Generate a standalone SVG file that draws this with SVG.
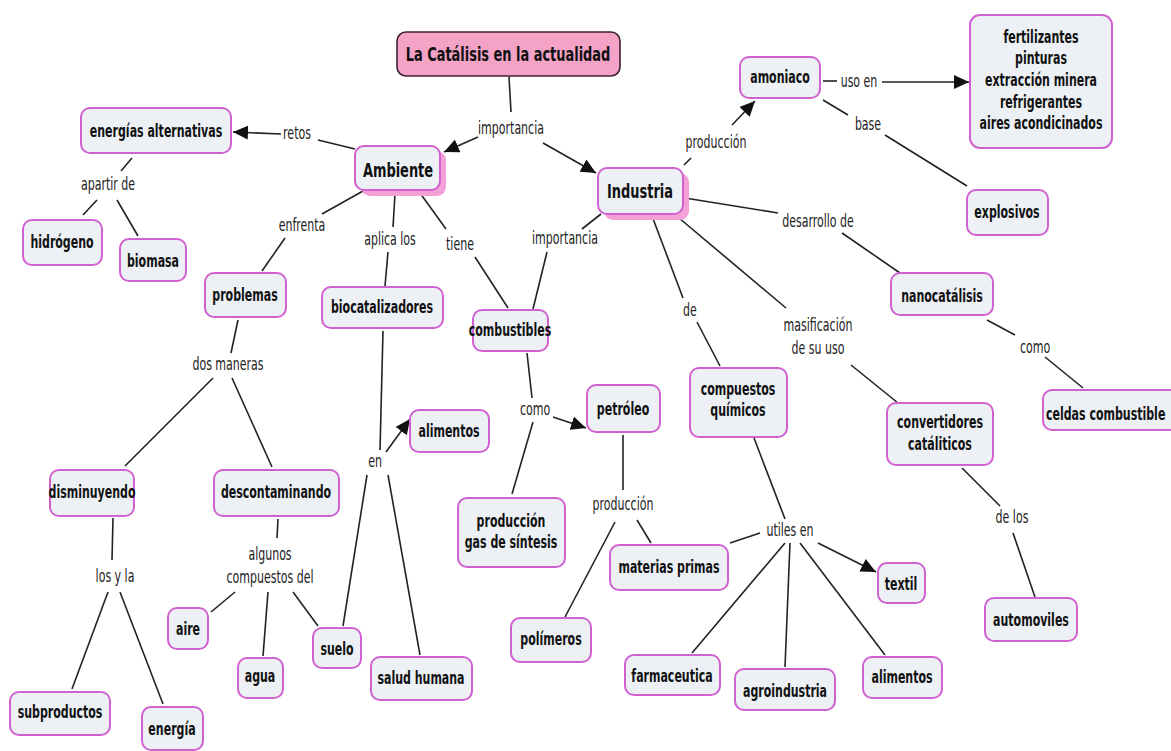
<svg xmlns="http://www.w3.org/2000/svg" width="1171" height="751" viewBox="0 0 1171 751">
  <defs>
    <style>
      .box{fill:#edf1f5;stroke:#d160d1;stroke-width:2}
      .sh{fill:#f4a0d6}
      .title{fill:#f4a3c6;stroke:#3f1f2e;stroke-width:1.6}
      .t{font-family:"DejaVu Sans Condensed","DejaVu Sans",sans-serif;font-weight:bold;font-size:17px;fill:#111;text-anchor:middle}
      .big{font-size:20px}
      .st{text-anchor:start}
      .lbl{font-family:"DejaVu Sans Condensed","DejaVu Sans",sans-serif;font-size:17px;fill:#222;text-anchor:middle}
      .ln{stroke:#222;stroke-width:1.6;fill:none}
      .arr{marker-end:url(#ah)}
    </style>
    <marker id="ah" markerUnits="userSpaceOnUse" markerWidth="16" markerHeight="14" refX="15" refY="7" orient="auto">
      <path d="M0,0 L15,7 L0,14 Z" fill="#111"/>
    </marker>
  </defs>
  <rect width="1171" height="751" fill="#ffffff"/>

  <!-- connectors -->
  <g id="connectors">
    <line class="ln" x1="509" y1="77" x2="511" y2="112"/>
    <line class="ln arr" x1="478" y1="137" x2="444" y2="152"/>
    <line class="ln arr" x1="543" y1="143" x2="596" y2="173"/>
    <line class="ln" x1="355" y1="149" x2="318" y2="140"/>
    <line class="ln arr" x1="281" y1="134" x2="233" y2="132"/>
    <line class="ln" x1="132" y1="158" x2="121" y2="171"/>
    <line class="ln" x1="97" y1="200" x2="83" y2="215"/>
    <line class="ln" x1="117" y1="200" x2="138" y2="236"/>
    <line class="ln" x1="363" y1="191" x2="322" y2="214"/>
    <line class="ln" x1="285" y1="238" x2="262" y2="271"/>
    <line class="ln" x1="395" y1="194" x2="393" y2="227"/>
    <line class="ln" x1="388" y1="252" x2="385" y2="286"/>
    <line class="ln" x1="420" y1="193" x2="446" y2="229"/>
    <line class="ln" x1="475" y1="257" x2="508" y2="308"/>
    <line class="ln" x1="601" y1="214" x2="582" y2="229"/>
    <line class="ln" x1="547" y1="252" x2="533" y2="309"/>
    <line class="ln" x1="684" y1="165" x2="691" y2="158"/>
    <line class="ln arr" x1="732" y1="125" x2="755" y2="101"/>
    <line class="ln" x1="823" y1="81" x2="837" y2="81"/>
    <line class="ln arr" x1="882" y1="82" x2="969" y2="82"/>
    <line class="ln" x1="823" y1="100" x2="848" y2="115"/>
    <line class="ln" x1="885" y1="135" x2="967" y2="186"/>
    <line class="ln" x1="685" y1="198" x2="778" y2="213"/>
    <line class="ln" x1="842" y1="233" x2="900" y2="273"/>
    <line class="ln" x1="987" y1="320" x2="1015" y2="335"/>
    <line class="ln" x1="1045" y1="357" x2="1083" y2="388"/>
    <line class="ln" x1="679" y1="218" x2="786" y2="308"/>
    <line class="ln" x1="851" y1="365" x2="898" y2="403"/>
    <line class="ln" x1="962" y1="468" x2="1000" y2="506"/>
    <line class="ln" x1="1013" y1="533" x2="1035" y2="597"/>
    <line class="ln" x1="652" y1="216" x2="683" y2="298"/>
    <line class="ln" x1="697" y1="322" x2="720" y2="366"/>
    <line class="ln" x1="754" y1="438" x2="785" y2="519"/>
    <line class="ln" x1="730" y1="543" x2="760" y2="533"/>
    <line class="ln arr" x1="818" y1="543" x2="876" y2="572"/>
    <line class="ln" x1="785" y1="543" x2="692" y2="653"/>
    <line class="ln" x1="790" y1="543" x2="785" y2="667"/>
    <line class="ln" x1="800" y1="543" x2="885" y2="655"/>
    <line class="ln" x1="527" y1="353" x2="532" y2="398"/>
    <line class="ln arr" x1="553" y1="417" x2="586" y2="428"/>
    <line class="ln" x1="533" y1="422" x2="512" y2="494"/>
    <line class="ln" x1="623" y1="435" x2="623" y2="490"/>
    <line class="ln" x1="637" y1="520" x2="651" y2="543"/>
    <line class="ln" x1="615" y1="522" x2="565" y2="617"/>
    <line class="ln" x1="383" y1="331" x2="380" y2="450"/>
    <line class="ln arr" x1="386" y1="452" x2="410" y2="419"/>
    <line class="ln" x1="367" y1="475" x2="343" y2="626"/>
    <line class="ln" x1="388" y1="475" x2="420" y2="655"/>
    <line class="ln" x1="238" y1="320" x2="231" y2="353"/>
    <line class="ln" x1="213" y1="378" x2="125" y2="466"/>
    <line class="ln" x1="232" y1="378" x2="272" y2="467"/>
    <line class="ln" x1="113" y1="518" x2="112" y2="560"/>
    <line class="ln" x1="108" y1="592" x2="72" y2="689"/>
    <line class="ln" x1="120" y1="592" x2="163" y2="704"/>
    <line class="ln" x1="278" y1="519" x2="277" y2="538"/>
    <line class="ln" x1="235" y1="592" x2="211" y2="612"/>
    <line class="ln" x1="268" y1="592" x2="263" y2="656"/>
    <line class="ln" x1="293" y1="592" x2="318" y2="626"/>
  </g>

  <!-- link labels -->
  <g id="labels">
    <text class="lbl" transform="translate(511 134) scale(.72 1)">importancia</text>
    <text class="lbl" transform="translate(297 139) scale(.72 1)">retos</text>
    <text class="lbl" transform="translate(108 190) scale(.72 1)">apartir de</text>
    <text class="lbl" transform="translate(302 231) scale(.72 1)">enfrenta</text>
    <text class="lbl" transform="translate(390 245) scale(.72 1)">aplica los</text>
    <text class="lbl" transform="translate(460 250) scale(.72 1)">tiene</text>
    <text class="lbl" transform="translate(565 244) scale(.72 1)">importancia</text>
    <text class="lbl" transform="translate(716 148) scale(.72 1)">producción</text>
    <text class="lbl" transform="translate(859 87) scale(.72 1)">uso en</text>
    <text class="lbl" transform="translate(868 130) scale(.72 1)">base</text>
    <text class="lbl" transform="translate(818 227) scale(.72 1)">desarrollo de</text>
    <text class="lbl" transform="translate(1035 353) scale(.72 1)">como</text>
    <text class="lbl" transform="translate(818 331) scale(.72 1)">masificación<tspan x="0" dy="23">de su uso</tspan></text>
    <text class="lbl" transform="translate(690 316) scale(.72 1)">de</text>
    <text class="lbl" transform="translate(228 370) scale(.72 1)">dos maneras</text>
    <text class="lbl" transform="translate(535 415) scale(.72 1)">como</text>
    <text class="lbl" transform="translate(375 467) scale(.72 1)">en</text>
    <text class="lbl" transform="translate(623 510) scale(.72 1)">producción</text>
    <text class="lbl" transform="translate(790 536) scale(.72 1)">utiles en</text>
    <text class="lbl" transform="translate(1012 523) scale(.72 1)">de los</text>
    <text class="lbl" transform="translate(270 560) scale(.72 1)">algunos<tspan x="0" dy="23">compuestos del</tspan></text>
    <text class="lbl" transform="translate(115 582) scale(.72 1)">los y la</text>
  </g>

  <!-- concepts -->
  <g id="n-titulo">
    <rect class="title" x="397" y="32" width="223" height="44" rx="9"/>
    <text class="t big" transform="translate(508 61) scale(.72 1)">La Catálisis en la actualidad</text>
  </g>
  <g id="n-ambiente">
    <rect class="sh" x="361" y="151" width="85" height="45" rx="9"/>
    <rect class="box" x="355" y="146" width="85" height="44" rx="9"/>
    <text class="t big" transform="translate(398 177) scale(.72 1)">Ambiente</text>
  </g>
  <g id="n-industria">
    <rect class="sh" x="604" y="173" width="85" height="47" rx="9"/>
    <rect class="box" x="598" y="168" width="85" height="46" rx="9"/>
    <text class="t big" transform="translate(640 198) scale(.72 1)">Industria</text>
  </g>
  <g id="n-energias-alternativas">
    <rect class="box" x="81" y="108" width="150" height="45" rx="9"/>
    <text class="t" transform="translate(156 137) scale(.72 1)">energías alternativas</text>
  </g>
  <g id="n-hidrogeno">
    <rect class="box" x="23" y="220" width="79" height="45" rx="9"/>
    <text class="t" transform="translate(62 248) scale(.72 1)">hidrógeno</text>
  </g>
  <g id="n-biomasa">
    <rect class="box" x="120" y="239" width="66" height="42" rx="9"/>
    <text class="t" transform="translate(153 267) scale(.72 1)">biomasa</text>
  </g>
  <g id="n-problemas">
    <rect class="box" x="205" y="273" width="81" height="44" rx="9"/>
    <text class="t" transform="translate(245 301) scale(.72 1)">problemas</text>
  </g>
  <g id="n-biocatalizadores">
    <rect class="box" x="322" y="287" width="121" height="41" rx="9"/>
    <text class="t" transform="translate(382 313) scale(.72 1)">biocatalizadores</text>
  </g>
  <g id="n-combustibles">
    <rect class="box" x="473" y="310" width="75" height="41" rx="9"/>
    <text class="t" transform="translate(510 336) scale(.72 1)">combustibles</text>
  </g>
  <g id="n-alimentos-1">
    <rect class="box" x="410" y="410" width="79" height="42" rx="9"/>
    <text class="t" transform="translate(449 437) scale(.72 1)">alimentos</text>
  </g>
  <g id="n-petroleo">
    <rect class="box" x="587" y="385" width="73" height="47" rx="9"/>
    <text class="t" transform="translate(623 415) scale(.72 1)">petróleo</text>
  </g>
  <g id="n-compuestos-quimicos">
    <rect class="box" x="690" y="368" width="97" height="69" rx="9"/>
    <text class="t" transform="translate(738 395) scale(.72 1)">compuestos<tspan x="0" dy="21">químicos</tspan></text>
  </g>
  <g id="n-gas-sintesis">
    <rect class="box" x="458" y="498" width="107" height="69" rx="9"/>
    <text class="t" transform="translate(511 527) scale(.72 1)">producción<tspan x="0" dy="21">gas de síntesis</tspan></text>
  </g>
  <g id="n-materias-primas">
    <rect class="box" x="610" y="545" width="118" height="45" rx="9"/>
    <text class="t" transform="translate(669 573) scale(.72 1)">materias primas</text>
  </g>
  <g id="n-textil">
    <rect class="box" x="878" y="563" width="47" height="40" rx="9"/>
    <text class="t" transform="translate(901 590) scale(.72 1)">textil</text>
  </g>
  <g id="n-farmaceutica">
    <rect class="box" x="625" y="655" width="95" height="40" rx="9"/>
    <text class="t" transform="translate(672 682) scale(.72 1)">farmaceutica</text>
  </g>
  <g id="n-agroindustria">
    <rect class="box" x="735" y="669" width="100" height="41" rx="9"/>
    <text class="t" transform="translate(785 697) scale(.72 1)">agroindustria</text>
  </g>
  <g id="n-alimentos-2">
    <rect class="box" x="863" y="657" width="79" height="41" rx="9"/>
    <text class="t" transform="translate(902 683) scale(.72 1)">alimentos</text>
  </g>
  <g id="n-automoviles">
    <rect class="box" x="985" y="598" width="92" height="43" rx="9"/>
    <text class="t" transform="translate(1031 626) scale(.72 1)">automoviles</text>
  </g>
  <g id="n-polimeros">
    <rect class="box" x="511" y="618" width="80" height="44" rx="9"/>
    <text class="t" transform="translate(551 645) scale(.72 1)">polímeros</text>
  </g>
  <g id="n-disminuyendo">
    <rect class="box" x="50" y="470" width="84" height="46" rx="9"/>
    <text class="t" transform="translate(92 498) scale(.72 1)">disminuyendo</text>
  </g>
  <g id="n-descontaminando">
    <rect class="box" x="214" y="470" width="125" height="46" rx="9"/>
    <text class="t" transform="translate(276 498) scale(.72 1)">descontaminando</text>
  </g>
  <g id="n-aire">
    <rect class="box" x="168" y="608" width="40" height="41" rx="9"/>
    <text class="t" transform="translate(188 635) scale(.72 1)">aire</text>
  </g>
  <g id="n-agua">
    <rect class="box" x="238" y="658" width="45" height="40" rx="9"/>
    <text class="t" transform="translate(260 682) scale(.72 1)">agua</text>
  </g>
  <g id="n-suelo">
    <rect class="box" x="313" y="628" width="48" height="40" rx="9"/>
    <text class="t" transform="translate(337 655) scale(.72 1)">suelo</text>
  </g>
  <g id="n-subproductos">
    <rect class="box" x="10" y="692" width="100" height="43" rx="9"/>
    <text class="t" transform="translate(60 718) scale(.72 1)">subproductos</text>
  </g>
  <g id="n-energia">
    <rect class="box" x="142" y="707" width="61" height="43" rx="9"/>
    <text class="t" transform="translate(172 735) scale(.72 1)">energía</text>
  </g>
  <g id="n-salud-humana">
    <rect class="box" x="371" y="657" width="101" height="43" rx="9"/>
    <text class="t" transform="translate(421 684) scale(.72 1)">salud humana</text>
  </g>
  <g id="n-nanocatalisis">
    <rect class="box" x="891" y="273" width="102" height="42" rx="9"/>
    <text class="t" transform="translate(942 302) scale(.72 1)">nanocatálisis</text>
  </g>
  <g id="n-convertidores">
    <rect class="box" x="887" y="403" width="106" height="62" rx="9"/>
    <text class="t" transform="translate(940 428) scale(.72 1)">convertidores<tspan x="0" dy="22">catáliticos</tspan></text>
  </g>
  <g id="n-celdas">
    <rect class="box" x="1043" y="390" width="140" height="40" rx="9"/>
    <text class="t st" transform="translate(1046 420) scale(.72 1)">celdas combustible</text>
  </g>
  <g id="n-explosivos">
    <rect class="box" x="967" y="190" width="81" height="45" rx="9"/>
    <text class="t" transform="translate(1007 218) scale(.72 1)">explosivos</text>
  </g>
  <g id="n-amoniaco">
    <rect class="box" x="740" y="57" width="80" height="41" rx="9"/>
    <text class="t" transform="translate(780 83) scale(.72 1)">amoniaco</text>
  </g>
  <g id="n-usos-amoniaco">
    <rect class="box" x="970" y="15" width="142" height="133" rx="10"/>
    <text class="t" transform="translate(1041 43) scale(.72 1)">fertilizantes<tspan x="0" dy="21">pinturas</tspan><tspan x="0" dy="22">extracción minera</tspan><tspan x="0" dy="22">refrigerantes</tspan><tspan x="0" dy="21">aires acondicinados</tspan></text>
  </g>
</svg>
